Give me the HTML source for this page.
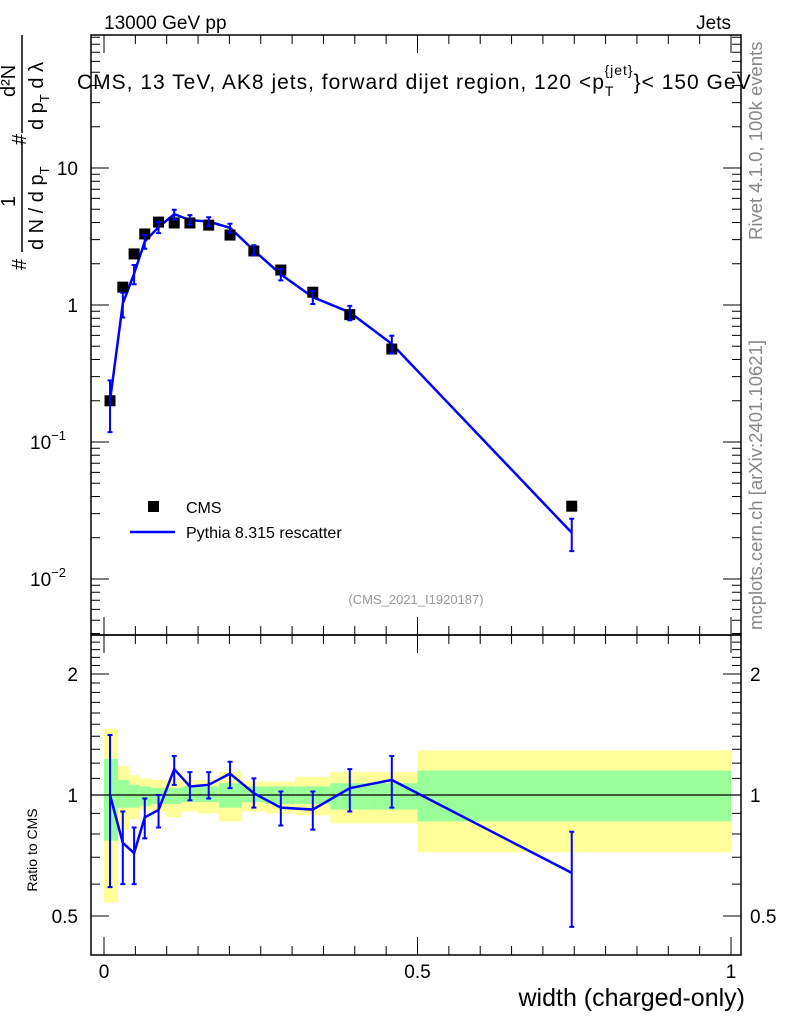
<!DOCTYPE html>
<html><head><meta charset="utf-8"><style>
body{margin:0;background:#fff}
svg{display:block;font-family:"Liberation Sans",sans-serif}
</style></head><body>
<svg id="c" width="786" height="1024" viewBox="0 0 786 1024">
<text x="104" y="29" font-size="19">13000 GeV pp</text>
<text x="731" y="29" font-size="19" text-anchor="end">Jets</text>
<text x="77" y="89" font-size="21" letter-spacing="1">CMS, 13 TeV, AK8 jets, forward dijet region, 120 &lt;p<tspan font-size="14" dy="7">T</tspan><tspan font-size="14" dy="-21" dx="-10">{jet}</tspan><tspan dy="14">}&lt; 150 GeV</tspan></text>
<g font-size="20">
<text transform="translate(26,270) rotate(-90)">#</text>
<text transform="translate(15,207) rotate(-90)">1</text>
<line x1="22" y1="252" x2="22" y2="140" stroke="#000" stroke-width="1.5"/>
<text transform="translate(43,250) rotate(-90)">d N / d p<tspan font-size="13" dy="6">T</tspan></text>
<text transform="translate(26,145) rotate(-90)">#</text>
<text transform="translate(15,97) rotate(-90)">d²N</text>
<line x1="22" y1="133" x2="22" y2="35" stroke="#000" stroke-width="1.5"/>
<text transform="translate(43,130) rotate(-90)">d p<tspan font-size="13" dy="6">T</tspan><tspan dy="-6">  d λ</tspan></text>
</g>
<text transform="translate(762,240) rotate(-90)" font-size="18.5" fill="#888">Rivet 4.1.0,  100k events</text>
<text transform="translate(762,630) rotate(-90)" font-size="18.5" fill="#888">mcplots.cern.ch [arXiv:2401.10621]</text>
<text x="416" y="604" font-size="13" fill="#999" text-anchor="middle">(CMS_2021_I1920187)</text>
<text transform="translate(37,850) rotate(-90)" font-size="14" text-anchor="middle">Ratio to CMS</text>
<text x="745" y="1006" font-size="25" text-anchor="end">width (charged-only)</text>
<rect x="148" y="501" width="11" height="11" fill="#000"/>
<text x="186" y="513" font-size="16">CMS</text>
<line x1="130" y1="532" x2="175" y2="532" stroke="#00f" stroke-width="2.5"/>
<text x="186" y="538" font-size="16">Pythia 8.315 rescatter</text>
<g id="bands"></g><g id="main"></g><g id="ratio"></g><g id="axes"></g>
</svg>
<script>
const xs=[0.0096,0.030,0.048,0.065,0.087,0.112,0.137,0.167,0.201,0.239,0.282,0.333,0.392,0.459,0.746];
const cmsVals=[0.20,1.35,2.36,3.3,4.03,3.97,3.97,3.83,3.24,2.48,1.8,1.24,0.85,0.477,0.034];
const ratioVals=[1.0,0.76,0.717,0.88,0.918,1.16,1.05,1.06,1.13,1.01,0.93,0.92,1.04,1.09,0.64];
const ratioUp=[1.41,0.91,0.83,0.98,1.0,1.25,1.14,1.14,1.21,1.10,1.02,1.02,1.16,1.25,0.81];
const ratioDn=[0.59,0.60,0.60,0.78,0.83,1.06,0.97,0.98,1.04,0.93,0.84,0.82,0.91,0.93,0.47];
const binEdges=[0,0.0224,0.04,0.057,0.075,0.099,0.124,0.150,0.183,0.220,0.258,0.305,0.361,0.423,0.5,1];
const totUp=[1.46,1.18,1.12,1.10,1.09,1.09,1.09,1.09,1.14,1.08,1.08,1.11,1.14,1.14,1.29];
const totDn=[0.54,0.82,0.87,0.92,0.91,0.88,0.91,0.90,0.86,0.91,0.90,0.89,0.85,0.85,0.72];
const statUp=[1.23,1.09,1.06,1.05,1.04,1.04,1.05,1.05,1.07,1.05,1.05,1.05,1.07,1.07,1.15];
const statDn=[0.77,0.93,0.93,0.94,0.95,0.95,0.96,0.96,0.93,0.96,0.95,0.95,0.92,0.92,0.86];
const NS='http://www.w3.org/2000/svg';
const X=v=>104+v*627;
const Y=v=>305-137*Math.log10(v);
const R=v=>795-402*Math.log10(v);
function mk(p,t,a){const e=document.createElementNS(NS,t);for(const k in a)e.setAttribute(k,a[k]);document.getElementById(p).appendChild(e);return e;}
for(let i=0;i<binEdges.length-1;i++){
 const x0=X(binEdges[i]),w=X(binEdges[i+1])-x0;
 let e=mk('bands','rect',{x:x0,y:R(totUp[i]),width:w,height:R(totDn[i])-R(totUp[i]),fill:'#ffff99'});
 
 
 e=mk('bands','rect',{x:x0,y:R(statUp[i]),width:w,height:R(statDn[i])-R(statUp[i]),fill:'#99ff99'});
 
 
}
let l=mk('bands','line',{x1:91,x2:741,y1:R(1),y2:R(1),stroke:'#000','stroke-width':1.2});


const mc=cmsVals.map((v,i)=>v*ratioVals[i]);
let pl=mk('main','polyline',{points:xs.map((x,i)=>X(x)+','+Y(mc[i])).join(' '),fill:'none',stroke:'#00f','stroke-width':2.5});


xs.forEach((x,i)=>{
 const cx=X(x);
 const r=mk('main','rect',{x:cx-5.5,y:Y(cmsVals[i])-5.5,width:11,height:11,fill:'#000'});
 
 
 const y1=Y(cmsVals[i]*ratioUp[i]),y2=Y(cmsVals[i]*ratioDn[i]);
 const g=mk('main','path',{d:`M${cx},${y1}V${y2}M${cx-2.5},${y1}h5M${cx-2.5},${y2}h5`,stroke:'#00f','stroke-width':2,fill:'none'});
 
 
 const y3=R(ratioUp[i]),y4=R(ratioDn[i]);
 const h=mk('ratio','path',{d:`M${cx},${y3}V${y4}M${cx-2.5},${y3}h5M${cx-2.5},${y4}h5`,stroke:'#00f','stroke-width':2,fill:'none'});
 
 
});
pl=mk('ratio','polyline',{points:xs.map((x,i)=>X(x)+','+R(ratioVals[i])).join(' '),fill:'none',stroke:'#00f','stroke-width':2.5});


let f=mk('axes','rect',{x:91,y:35,width:650,height:600,fill:'none',stroke:'#000','stroke-width':1.5});


f=mk('axes','rect',{x:91,y:635,width:650,height:320,fill:'none',stroke:'#000','stroke-width':1.5});


let d='';
for(let e=-3;e<=2;e++)for(let m=1;m<10;m++){const v=m*Math.pow(10,e),y=Y(v);if(y<35||y>635)continue;const L=m==1?18:9;d+=`M91,${y}h${L}M741,${y}h${-L}`;}
for(let m=4;m<=25;m++){const v=m/10,y=R(v);if(y<635||y>955)continue;const L=(m==5||m==10||m==20)?18:9;d+=`M91,${y}h${L}M741,${y}h${-L}`;}
for(let k=0;k<=20;k++){const x=X(k*0.05);const L=k%10==0?18:9;d+=`M${x},635v${-L}M${x},35v${L}M${x},955v${-L}M${x},635v${L}`;}
let t=mk('axes','path',{d:d,stroke:'#000','stroke-width':1,fill:'none'});


const yLabels=[['10',10],['1',1]];
yLabels.forEach(([s,v])=>{const e=mk('axes','text',{x:78,y:Y(v)+7,'font-size':19,'text-anchor':'end'});e.textContent=s;});
[[0.1,'−1'],[0.01,'−2']].forEach(([v,s])=>{const e=mk('axes','text',{x:66,y:Y(v)+7,'font-size':19,'text-anchor':'end'});e.innerHTML='10<tspan font-size="13" dy="-9">'+s+'</tspan>';});
[['2',2],['1',1],['0.5',0.5]].forEach(([s,v])=>{
 let e=mk('axes','text',{x:78,y:R(v)+7,'font-size':19,'text-anchor':'end'});e.textContent=s;
 e=mk('axes','text',{x:750,y:R(v)+7,'font-size':19});e.textContent=s;});
[['0',0],['0.5',0.5],['1',1]].forEach(([s,v])=>{const e=mk('axes','text',{x:X(v),y:978,'font-size':19,'text-anchor':'middle'});e.textContent=s;});
</script>
</body></html>
